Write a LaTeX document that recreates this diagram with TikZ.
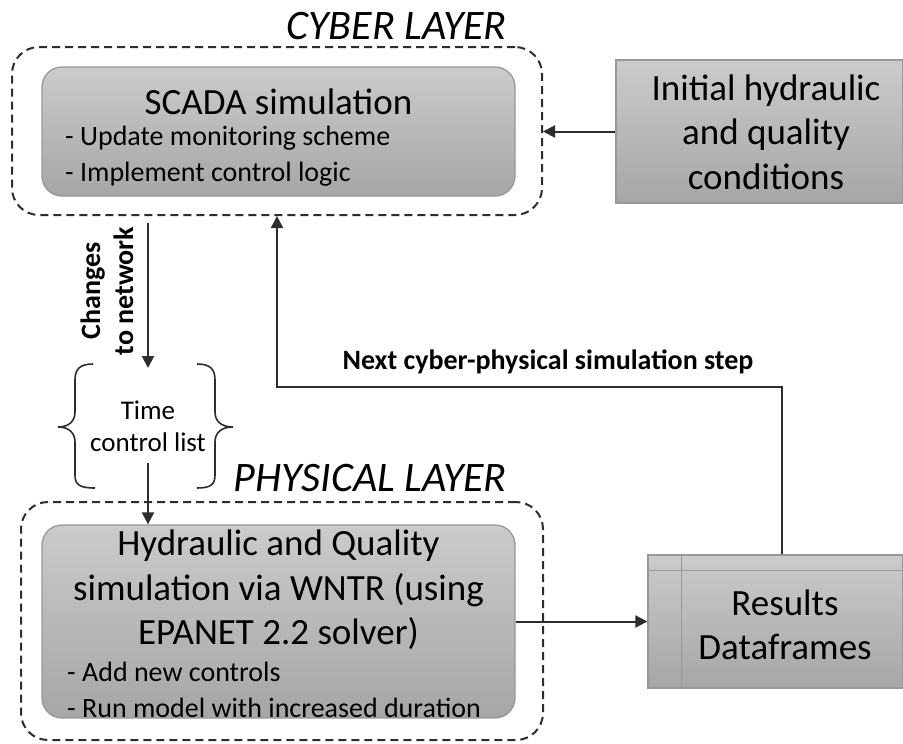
\documentclass[tikz,border=0pt]{standalone}
\usepackage{fontspec}
\setmainfont{Carlito}
\usetikzlibrary{arrows.meta}
\definecolor{boxtop}{RGB}{203,203,203}
\definecolor{boxbot}{RGB}{166,166,166}
\definecolor{boxline}{RGB}{152,152,152}
\definecolor{ink}{RGB}{45,45,45}
\begin{document}
\begin{tikzpicture}[x=1pt,y=-1pt,
  layer/.style={draw=ink, line width=2pt, dash pattern=on 8pt off 5pt, rounded corners=27pt, inner sep=0pt},
  proc/.style={draw=boxline, line width=1.3pt, top color=boxtop, bottom color=boxbot, inner sep=0pt},
  arr/.style={draw=ink, line width=2pt, -{Triangle[length=12pt,width=12pt]}},
  brace/.style={draw=ink, line width=1.6pt},
  title/.style={inner sep=0pt, align=center, font=\fontsize{37}{44.5}\selectfont},
  bullets/.style={inner sep=0pt, align=left, anchor=west, font=\fontsize{28}{35.5}\selectfont},
  layerlabel/.style={inner sep=0pt, anchor=east, font=\fontsize{42}{50}\selectfont\itshape},
  boldlabel/.style={inner sep=0pt, align=center, font=\fontsize{28}{33}\selectfont\bfseries},
  small/.style={inner sep=0pt, align=center, font=\fontsize{27}{32}\selectfont}]
\useasboundingbox (0,0) rectangle (903,744);

% layers
\node[layer, minimum width=530pt, minimum height=168pt] (cyber) at (277,131) {};
\node[layer, minimum width=522pt, minimum height=238pt] (phys) at (282,621) {};
\node[layerlabel] (cyberlbl) at (507,26) {CYBER LAYER};
\node[layerlabel] (physlbl) at (507,478) {PHYSICAL LAYER};

% SCADA
\node[proc, rounded corners=20pt, minimum width=473pt, minimum height=129pt] (scada) at (278.5,131.5) {};
\node[title] (scadaT) at (278.5,102) {SCADA simulation};
\node[bullets] (scadaB) at (65,156) {- Update monitoring scheme\\- Implement control logic};

% Initial conditions
\node[proc, minimum width=287pt, minimum height=143pt] (init) at (759.5,131.5) {};
\node[title] (initT) at (766,132) {Initial hydraulic\\and quality\\conditions};

% Hydraulic
\node[proc, rounded corners=20pt, minimum width=473pt, minimum height=193pt] (hyd) at (278.5,621.5) {};
\node[title] (hydT) at (278.5,590) {Hydraulic and Quality\\simulation via WNTR (using\\EPANET 2.2 solver)};
\node[bullets] (hydB) at (67,690) {- Add new controls\\- Run model with increased duration};

% Results
\node[proc, minimum width=255pt, minimum height=133pt] (res) at (775.5,621.5) {};
\draw[boxline, line width=1.3pt] (res.north west) ++(34,0) coordinate (rv) -- (rv |- res.south);
\draw[boxline, line width=1.3pt] (res.north west) ++(0,16) coordinate (rh) -- (rh -| res.east);
\node[title] (resT) at (785,625) {Results\\Dataframes};

% time control list with braces
\node[small] (tcl) at (148,426) {Time\\control list};
\draw[brace] (93,364) .. controls (80,364) and (75,369) .. (75,380) -- (75,412)
  .. controls (75,421) and (69,427) .. (58,427)
  .. controls (69,427) and (75,433) .. (75,442) -- (75,475)
  .. controls (75,485) and (80,488) .. (95,488);
\draw[brace] (197,364) .. controls (210,364) and (215,369) .. (215,380) -- (215,412)
  .. controls (215,421) and (221,427) .. (233,427)
  .. controls (221,427) and (215,433) .. (215,442) -- (215,475)
  .. controls (215,485) and (210,488) .. (197,488);
\coordinate (btop) at (148,368);
\coordinate (bbot) at (148,463);

% connectors
\draw[arr, shorten <=7pt] (cyber.south -| btop) -- (btop);
\node[boldlabel, rotate=90] (chg) at (107,291) {Changes\\to network};
\draw[arr] (bbot) -- (hyd.north -| bbot);
\draw[arr] (init.west) -- (cyber.east |- init.west);
\draw[arr] (hyd.east) -- (res.west);
\coordinate (fb) at (782,387);
\draw[arr] (res.north -| fb) -- (fb) -| (cyber.south);
\node[boldlabel] (nextlbl) at (548,362) {Next cyber-physical simulation step};
\end{tikzpicture}
\end{document}
